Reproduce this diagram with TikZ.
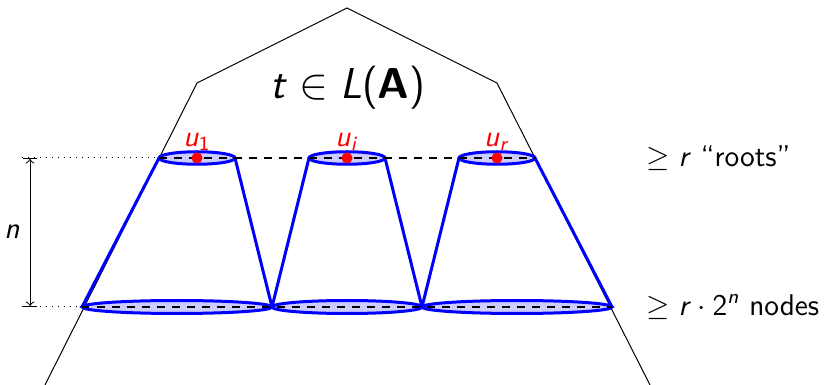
\documentclass[tikz,border=0pt]{standalone}
\usepackage{xcolor}
\usepackage{tikz}
\usepackage{amsmath}
\usetikzlibrary{shapes.geometric}

% sans italic letters in math
\newcommand{\sv}[1]{\text{\textit{#1}}}
\newcommand{\su}[1]{\text{#1}}

\begin{document}
\begin{tikzpicture}[
    x=0.4pt, y=-0.4pt,
    font=\sffamily,
    cone/.style={draw=blue, very thick},
    level/.style={dashed, semithick},
    rootell/.style={ellipse, draw=blue, fill=blue!20, very thick, inner sep=0pt, outer sep=0pt, minimum width=30.4pt, minimum height=5pt},
    wideell/.style={ellipse, draw=blue, fill=blue!20, very thick, inner sep=0pt, outer sep=0pt, minimum width=76pt, minimum height=5.2pt},
    midell/.style={ellipse, draw=blue, fill=blue!20, very thick, inner sep=0pt, outer sep=0pt, minimum width=60pt, minimum height=5.2pt},
    rootdot/.style={circle, fill=red, inner sep=0pt, minimum size=4.4pt},
    rootlab/.style={text=red, font=\sffamily\large, inner sep=0.3pt}
]
\useasboundingbox (0,0) rectangle (826,385);

% outer tree t
\coordinate (bl) at (45,385);
\coordinate (sl) at (197,83);
\coordinate (top) at (347,8);
\coordinate (sr) at (497,83);
\coordinate (br) at (650,385);
\draw (bl) -- (sl) -- (top) -- (sr) -- (br);
\node[font=\sffamily\LARGE] (lang) at (348,88) {$\sv{t} \in \sv{L}\su{(}\text{\textbf{A}}\su{)}$};

% bottom level
\node[wideell] (b1) at (177,307) {};
\node[midell] (b2) at (347,307) {};
\node[wideell] (b3) at (517,307) {};

% cones
\node[rootell] (r1) at (197,158) {};
\node[rootell] (ri) at (347,158) {};
\node[rootell] (rr) at (497,158) {};
\draw[cone] (r1.west) -- (b1.west) (r1.east) -- (b1.east);
\draw[cone] (ri.west) -- (b2.west) (ri.east) -- (b2.east);
\draw[cone] (rr.west) -- (b3.west) (rr.east) -- (b3.east);

\draw[level] (r1.west) -- (rr.east);
\draw[level] (b1.west) -- (b3.east);

% roots
\node[rootdot] (d1) at (r1.center) {};
\node[rootdot] (di) at (ri.center) {};
\node[rootdot] (dr) at (rr.center) {};
\node[rootlab, anchor=south] (u1) at (d1.north) {$\sv{u}_{\su{1}}$};
\node[rootlab, anchor=south] (ui) at (di.north) {$\sv{u}_{\sv{i}}$};
\node[rootlab, anchor=south] (ur) at (dr.north) {$\sv{u}_{\sv{r}}$};

% height n
\coordinate (ht) at (22,158);
\coordinate (hb) at (22,307);
\coordinate (at) at (30,158);
\coordinate (ab) at (30,307);
\draw[dotted] (ht) -- (r1.west);
\draw[dotted] (hb) -- (b1.west);
\draw[|<->|] (at) -- (ab);
\node[font=\sffamily\large] (n) at (12,232) {$\sv{n}$};

% counts
\node[anchor=west, font=\sffamily\large] (roots) at (638,158) {$\geq \sv{r}$ ``roots''};
\node[anchor=west, font=\sffamily\large] (nodes) at (638,307) {$\geq \sv{r} \cdot \su{2}^{\sv{n}}$ nodes};
\end{tikzpicture}
\end{document}
